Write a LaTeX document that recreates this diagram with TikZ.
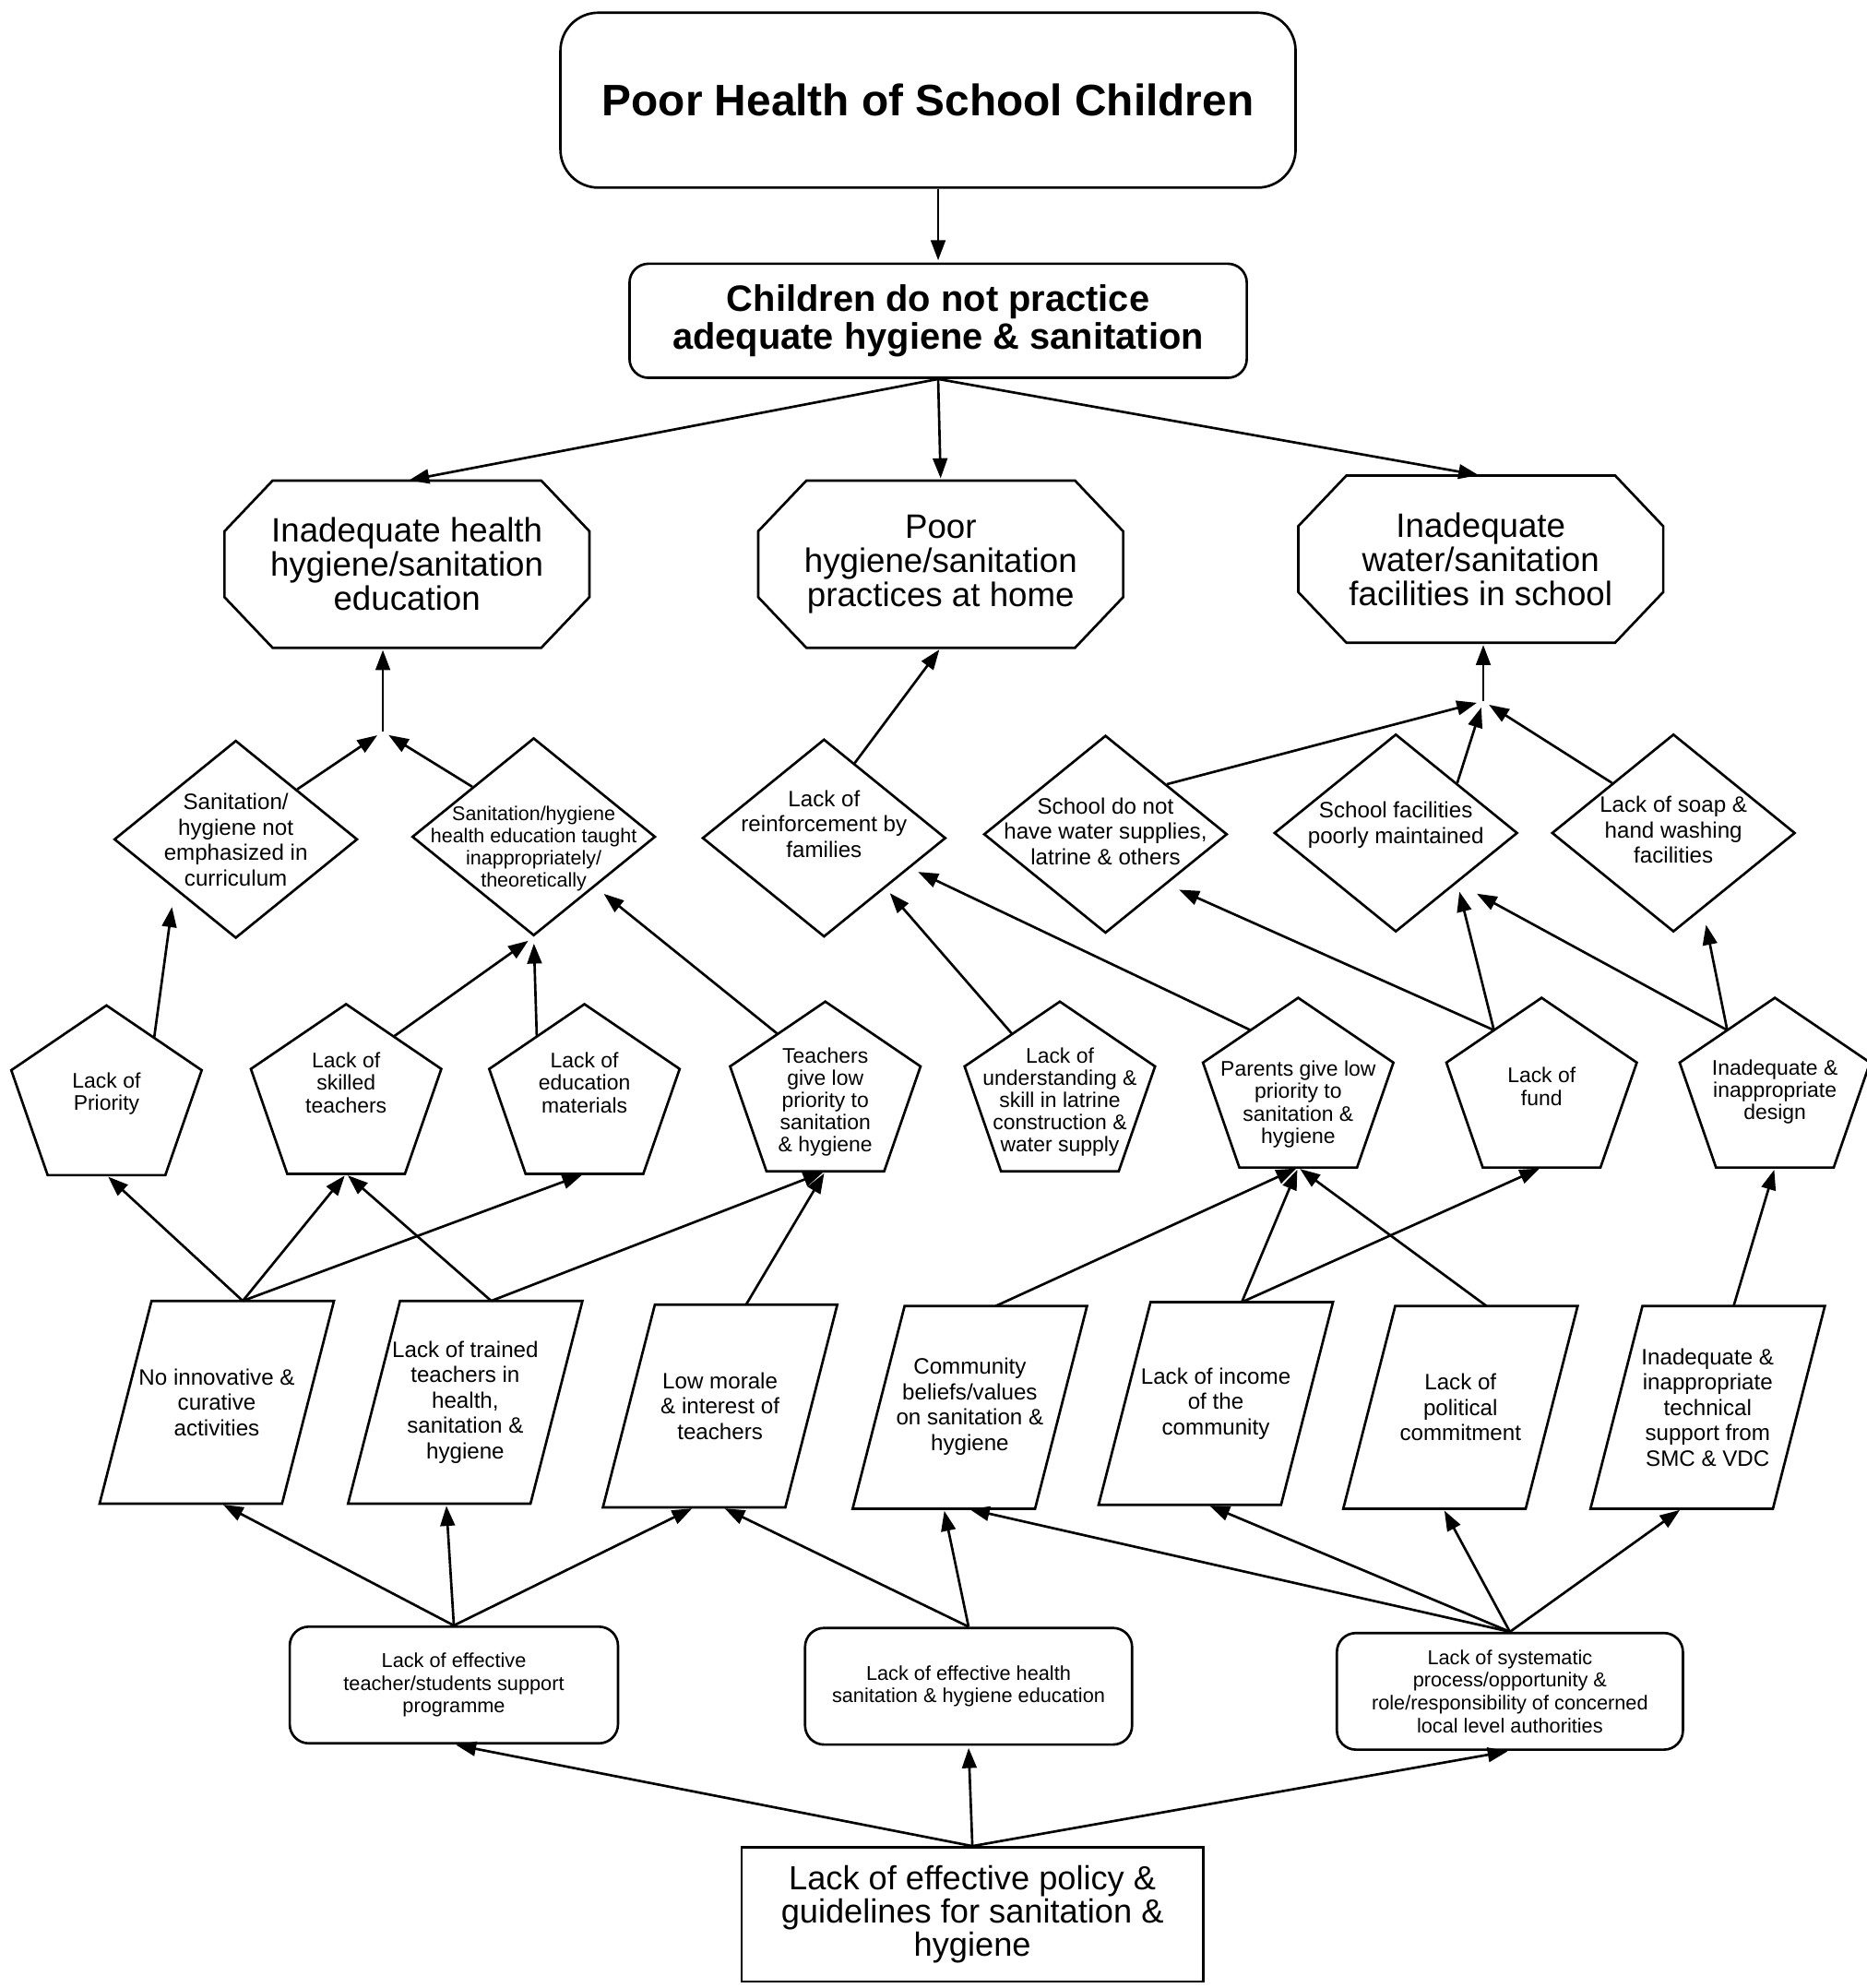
\documentclass[tikz,border=0pt]{standalone}
\usepackage{fontspec}
\setmainfont{Liberation Sans}
\usetikzlibrary{shapes.geometric,arrows.meta,calc}

% text that does not change the size of the shape round it
\newcommand{\shapetext}[2][0pt]{\smash{\makebox[0pt]{\raisebox{-.25em}{\raisebox{#1}{\begin{tabular}{@{}c@{}}#2\end{tabular}}}}}}
% chamfered frame round a named node
\newcommand{\octframe}[1]{%
  \draw ([xshift=0.76cm]#1.north west) -- ([xshift=-0.76cm]#1.north east)
    -- ([yshift=-0.8cm]#1.north east) -- ([yshift=0.8cm]#1.south east)
    -- ([xshift=-0.76cm]#1.south east) -- ([xshift=0.76cm]#1.south west)
    -- ([yshift=0.8cm]#1.south west) -- ([yshift=-0.8cm]#1.north west) -- cycle;}
% leaning frame round a named node
\newcommand{\paraframe}[1]{%
  \draw ([xshift=-0.41cm]#1.south west) -- ([xshift=-0.41cm]#1.south east)
    -- ([xshift=0.41cm]#1.north east) -- ([xshift=0.41cm]#1.north west) -- cycle;}
% pentagon: options, name, x, y, text
\newcommand{\pentagon}[5][]{%
  \node[penta,#1] (#2) at (#3,#4) {#5};
  \draw (#3,#4) ++(0,-74) -- ++(75.1,51.1) -- ++(-28.7,82.8) -- ++(-92.8,0) -- ++(-28.7,-82.8) -- cycle;
  \coordinate (#2-l) at (#3-37.6,#4-48.5);
  \coordinate (#2-r) at (#3+37.6,#4-48.5);
  \coordinate (#2-b) at (#3,#4+59.9);}

\begin{document}
\begin{tikzpicture}[x=0.02cm, y=-0.02cm, line width=1.1pt,
    arr/.style={-{Triangle[length=9pt,width=6.5pt]}, shorten >=1pt},
    topbox/.style={draw, rounded corners=0.6cm, minimum width=11.6cm, minimum height=2.76cm,
        font=\fontsize{19.8}{23}\selectfont\bfseries},
    midbox/.style={draw, rounded corners=0.3cm, minimum width=9.74cm, minimum height=1.8cm,
        align=center, font=\fontsize{16.5}{16.8}\selectfont\bfseries},
    oct/.style={minimum width=5.72cm, minimum height=2.6cm, align=center,
        font=\fontsize{15.2}{15.4}\selectfont},
    dia/.style={draw, diamond, minimum width=3.84cm, minimum height=3.12cm, inner sep=0pt,
        font=\fontsize{10}{11.4}\selectfont},
    penta/.style={inner sep=0pt, align=center, font=\fontsize{9.5}{10}\selectfont},
    para/.style={minimum width=2.84cm, minimum height=3.16cm, inner sep=0pt, align=center,
        font=\fontsize{10}{11.4}\selectfont},
    rbox/.style={draw, rounded corners=0.3cm, minimum height=1.84cm, align=center,
        font=\fontsize{9}{10.2}\selectfont},
    basebox/.style={draw, minimum width=7.28cm, minimum height=2.12cm, align=center,
        font=\fontsize{15}{14.8}\selectfont}]
    \useasboundingbox (0,0) rectangle (1472,1568);

    % Core problem
    \node[topbox] (poor) at (732,79) {Poor Health of School Children};
    \node[midbox] (child) at (740,253) {Children do not practice\\adequate hygiene \& sanitation};
    \draw[arr] (child.north |- poor.south) -- (child.north);

    % Three main causes
    \node[oct] (edu) at (321,445) {Inadequate health\\hygiene/sanitation\\education};
    \node[oct] (home) at (742,445) {Poor\\hygiene/sanitation\\practices at home};
    \node[oct] (fac) at (1168,441) {Inadequate\\water/sanitation\\facilities in school};
    \octframe{edu}
    \octframe{home}
    \octframe{fac}
    \draw[arr] (child.south) -- (edu.north);
    \draw[arr] (child.south) -- (home.north);
    \draw[arr] (child.south) -- (fac.north);

    % Diamonds
    \node[dia] (curric) at (186,662) {\shapetext[-1.5pt]{Sanitation/\\hygiene not\\emphasized in\\curriculum}};
    \node[dia, font=\fontsize{8.9}{10}\selectfont] (taught) at (421,660) {\shapetext[-5.7pt]{Sanitation/hygiene\\health education taught\\inappropriately/\\theoretically}};
    \node[dia] (reinf) at (650,661) {\shapetext[5pt]{Lack of\\reinforcement by\\families}};
    \node[dia] (nowater) at (872,658) {\shapetext{School do not\\have water supplies,\\latrine \& others}};
    \node[dia] (maint) at (1101,657) {\shapetext[3.4pt]{School facilities\\poorly maintained}};
    \node[dia] (soap) at (1320,657) {\shapetext{Lack of soap \&\\hand washing\\facilities}};

    % Diamonds to main causes
    \coordinate (j1) at (302,577);
    \draw[arr, shorten >=3pt] (curric.north east) -- (j1);
    \draw[arr, shorten >=3pt] (taught.north west) -- (j1);
    \draw[arr] (j1) -- (j1 |- edu.south);
    \draw[arr] ($(reinf.north)!0.25!(reinf.east)$) -- (home.south);
    \coordinate (j2) at (1170,553);
    \draw[arr, shorten >=3pt] (nowater.north east) -- (j2);
    \draw[arr, shorten >=3pt] (maint.north east) -- (j2);
    \draw[arr, shorten >=3pt] (soap.north west) -- (j2);
    \draw[arr] (j2) -- (j2 |- fac.south);

    % Pentagons
    \pentagon[yshift=2.5pt]{prio}{84}{867}{Lack of\\Priority}
    \pentagon[yshift=6.8pt]{skill}{273}{866}{Lack of\\skilled\\teachers}
    \pentagon[yshift=6.8pt]{mater}{461}{866}{Lack of\\education\\materials}
    \pentagon[yshift=-3pt]{tprio}{651}{864}{Teachers\\give low\\priority to\\sanitation\\\& hygiene}
    \pentagon[yshift=-3pt]{underst}{836}{864}{Lack of\\understanding \&\\skill in latrine\\construction \&\\water supply}
    \pentagon[yshift=-5.7pt]{pprio}{1024}{861}{Parents give low\\priority to\\sanitation \&\\hygiene}
    \pentagon[yshift=2.3pt]{fund}{1216}{861}{Lack of\\fund}
    \pentagon{design}{1400}{861}{Inadequate \&\\inappropriate\\design}

    % Pentagons to diamonds
    \draw[arr, shorten >=8pt] (prio-r) -- (curric.south west);
    \draw[arr, shorten >=3pt] (skill-r) -- (taught.south);
    \draw[arr, shorten >=3pt] (mater-l) -- (taught.south);
    \draw[arr, shorten >=5pt] (tprio-l) -- (taught.south east);
    \draw[arr, shorten >=3pt] (underst-l) -- (reinf.south east);
    \draw[arr, shorten >=4pt] (pprio-l) -- ($(reinf.south)!0.7!(reinf.east)$);
    \draw[arr, shorten >=6pt] (fund-l) -- (nowater.south east);
    \draw[arr, shorten >=4pt] (fund-l) -- (maint.south east);
    \draw[arr, shorten >=10pt] (design-l) -- (maint.south east);
    \draw[arr, shorten >=2pt] (design-l) -- ($(soap.south)+(25,-10)$);

    % Parallelograms
    \node[para] (innov) at (171,1106) {No innovative \&\\curative\\activities};
    \node[para] (trained) at (367,1106) {Lack of trained\\teachers in\\health,\\sanitation \&\\hygiene};
    \node[para] (morale) at (568,1109) {Low morale\\\& interest of\\teachers};
    \node[para] (belief) at (765,1110) {\raisebox{4pt}{\begin{tabular}{@{}c@{}}Community\\beliefs/values\\on sanitation \&\\hygiene\end{tabular}}};
    \node[para] (income) at (959,1107) {Lack of income\\of the\\community};
    \node[para] (polit) at (1152,1110) {Lack of\\political\\commitment};
    \node[para] (techsup) at (1347,1110) {Inadequate \&\\inappropriate\\technical\\support from\\SMC \& VDC};
    \foreach \q in {innov,trained,morale,belief,income,polit,techsup}
        \paraframe{\q};

    % Parallelograms to pentagons
    \draw[arr] ([xshift=0.41cm]innov.north) -- (prio-b);
    \draw[arr] ([xshift=0.41cm]innov.north) -- (skill-b);
    \draw[arr] ([xshift=0.41cm]innov.north) -- (mater-b);
    \draw[arr] ([xshift=0.41cm]trained.north) -- (skill-b);
    \draw[arr] ([xshift=0.41cm]trained.north) -- (tprio-b);
    \draw[arr] ([xshift=0.41cm]morale.north) -- (tprio-b);
    \draw[arr] ([xshift=0.41cm]belief.north) -- (pprio-b);
    \draw[arr] ([xshift=0.41cm]income.north) -- (pprio-b);
    \draw[arr] ([xshift=0.41cm]income.north) -- (fund-b);
    \draw[arr] ([xshift=0.41cm]polit.north) -- (pprio-b);
    \draw[arr] ([xshift=0.41cm]techsup.north) -- (design-b);

    % Programme level causes
    \node[rbox, minimum width=5.18cm] (support) at (358,1329) {Lack of effective\\teacher/students support\\programme};
    \node[rbox, minimum width=5.16cm] (hedu) at (764,1330) {Lack of effective health\\sanitation \& hygiene education};
    \node[rbox, minimum width=5.46cm] (system) at (1191,1334) {Lack of systematic\\process/opportunity \&\\role/responsibility of concerned\\local level authorities};

    \draw[arr] (support.north) -- ([xshift=0.07cm]innov.south);
    \draw[arr] (support.north) -- ([xshift=-0.3cm]trained.south);
    \draw[arr] (support.north) -- ([xshift=-0.41cm]morale.south);
    \draw[arr] (hedu.north) -- ([xshift=0.04cm]morale.south);
    \draw[arr] (hedu.north) -- ([xshift=-0.41cm]belief.south);
    \draw[arr] (system.north) -- ([xshift=-0.04cm]belief.south);
    \draw[arr] (system.north) -- ([xshift=-0.13cm]income.south);
    \draw[arr] (system.north) -- ([xshift=-0.27cm]polit.south);
    \draw[arr] (system.north) -- ([xshift=-0.41cm]techsup.south);

    % Root cause
    \node[basebox] (policy) at (767,1510) {Lack of effective policy \&\\guidelines for sanitation \&\\hygiene};
    \draw[arr] (policy.north) -- (support.south);
    \draw[arr] (policy.north) -- (hedu.south);
    \draw[arr] (policy.north) -- (system.south);
\end{tikzpicture}
\end{document}
